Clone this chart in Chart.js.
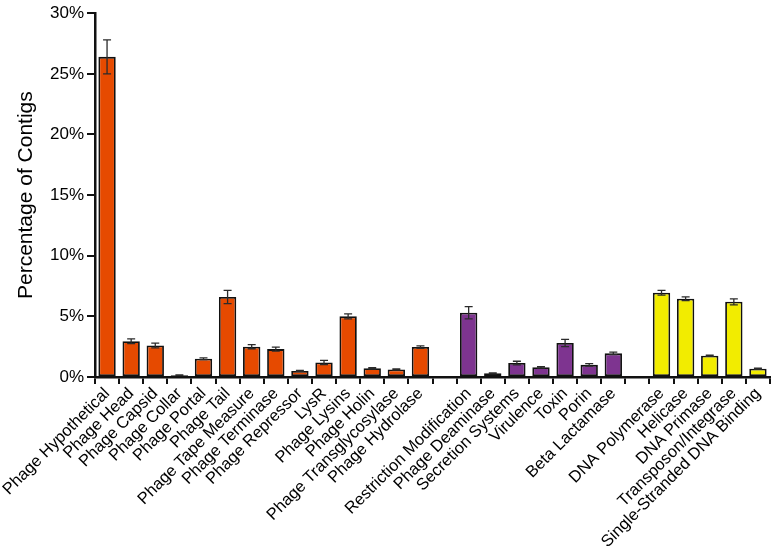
<!DOCTYPE html>
<html>
<head>
<meta charset="utf-8">
<script src="https://cdn.jsdelivr.net/npm/chart.js@4.4.0/dist/chart.umd.min.js"></script>
<style>
  html, body { margin: 0; padding: 0; background: #fff; }
  #wrap { width: 772px; height: 553px; position: relative; }
</style>
</head>
<body>
<div id="wrap"><canvas id="contigsChart"></canvas></div>
<script>
// categories ('' = spacer between groups)
const categories = [
    'Phage Hypothetical', 'Phage Head', 'Phage Capsid', 'Phage Collar', 'Phage Portal',
    'Phage Tail', 'Phage Tape Measure', 'Phage Terminase', 'Phage Repressor', 'LysR',
    'Phage Lysins', 'Phage Holin', 'Phage Transglycosylase', 'Phage Hydrolase',
    '',
    'Restriction Modification', 'Phage Deaminase', 'Secretion Systems', 'Virulence',
    'Toxin', 'Porin', 'Beta Lactamase',
    '',
    'DNA Polymerase', 'Helicase', 'DNA Primase', 'Transposon/Integrase',
    'Single-Stranded DNA Binding'
];
// percentage of contigs
const values = [
    26.4, 2.95, 2.6, 0.15, 1.5, 6.6, 2.5, 2.3, 0.5, 1.2, 5.0, 0.72, 0.62, 2.47,
    null,
    5.3, 0.3, 1.15, 0.8, 2.8, 1.0, 1.95,
    null,
    6.95, 6.45, 1.75, 6.2, 0.68
];
// error (+/-)
const errors = [
    1.4, 0.2, 0.2, 0.03, 0.07, 0.55, 0.17, 0.17, 0.04, 0.17, 0.2, 0.06, 0.05, 0.1,
    null,
    0.5, 0.04, 0.15, 0.06, 0.3, 0.1, 0.1,
    null,
    0.2, 0.15, 0.05, 0.25, 0.05
];
// group of each bar: 0 phage, 1 host/virulence, 2 replication
const groups = [
    0, 0, 0, 0, 0, 0, 0, 0, 0, 0, 0, 0, 0, 0,
    null,
    1, 1, 1, 1, 1, 1, 1,
    null,
    2, 2, 2, 2, 2
];
const groupColors = ['#E64A00', '#7E3490', '#F2EC00'];
const yTicks = [0, 5, 10, 15, 20, 25, 30];

// error bars drawn through the chart's own scales
const errorBarPlugin = {
    id: 'errorBars',
    afterDatasetsDraw(chart) {
        const ctx = chart.ctx;
        const meta = chart.getDatasetMeta(0);
        const y = chart.scales.y;
        ctx.save();
        ctx.strokeStyle = '#2b2b2b';
        ctx.lineWidth = 1.3;
        meta.data.forEach((bar, i) => {
            if (values[i] == null || !errors[i]) return;
            const top = y.getPixelForValue(values[i] + errors[i]);
            const bot = y.getPixelForValue(Math.max(values[i] - errors[i], 0));
            const cap = 4;
            ctx.beginPath();
            ctx.moveTo(bar.x, top); ctx.lineTo(bar.x, bot);
            ctx.moveTo(bar.x - cap, top); ctx.lineTo(bar.x + cap, top);
            ctx.moveTo(bar.x - cap, bot); ctx.lineTo(bar.x + cap, bot);
            ctx.stroke();
        });
        ctx.restore();
    }
};

const ctx = document.getElementById('contigsChart').getContext('2d');
const contigsChart = new Chart(ctx, {
    type: 'bar',
    data: {
        labels: categories,
        datasets: [{
            data: values,
            backgroundColor: groups.map(g => g == null ? 'transparent' : groupColors[g]),
            borderColor: '#111',
            borderWidth: 1.8,
            borderSkipped: false,
            categoryPercentage: 1,
            barPercentage: 0.72
        }]
    },
    options: {
        responsive: true,
        maintainAspectRatio: false,
        animation: false,
        layout: { padding: { top: 2, right: 2, left: 0, bottom: 0 } },
        plugins: {
            legend: { display: false },
            tooltip: { enabled: false }
        },
        scales: {
            x: {
                grid: {
                    display: true,
                    drawOnChartArea: false,
                    drawTicks: true,
                    tickLength: 7,
                    color: '#111',
                    lineWidth: 2
                },
                border: { color: '#111', width: 2.5 },
                ticks: {
                    autoSkip: false,
                    maxRotation: 45,
                    minRotation: 45,
                    padding: 0,
                    color: '#000',
                    font: { family: 'Liberation Sans, Arial, sans-serif', size: 16.5 }
                },
                afterFit(scale) {
                    scale.height = 176;
                    scale.paddingLeft = 0;
                    scale.paddingRight = 0;
                }
            },
            y: {
                min: 0,
                max: 30,
                afterBuildTicks(scale) {
                    scale.ticks = yTicks.map(v => ({ value: v }));
                },
                grid: {
                    display: true,
                    drawOnChartArea: false,
                    drawTicks: true,
                    tickLength: 8,
                    color: '#111',
                    lineWidth: 2
                },
                border: { color: '#111', width: 2.5 },
                ticks: {
                    padding: 3,
                    color: '#000',
                    font: { family: 'Liberation Sans, Arial, sans-serif', size: 17 },
                    callback: v => v + '%'
                },
                title: {
                    display: true,
                    text: 'Percentage of Contigs',
                    color: '#000',
                    padding: { top: 14, bottom: 6 },
                    font: { family: 'Liberation Sans, Arial, sans-serif', size: 21 }
                },
                afterFit(scale) {
                    scale.width = 95;
                }
            }
        }
    },
    plugins: [errorBarPlugin]
});
</script>
</body>
</html>
